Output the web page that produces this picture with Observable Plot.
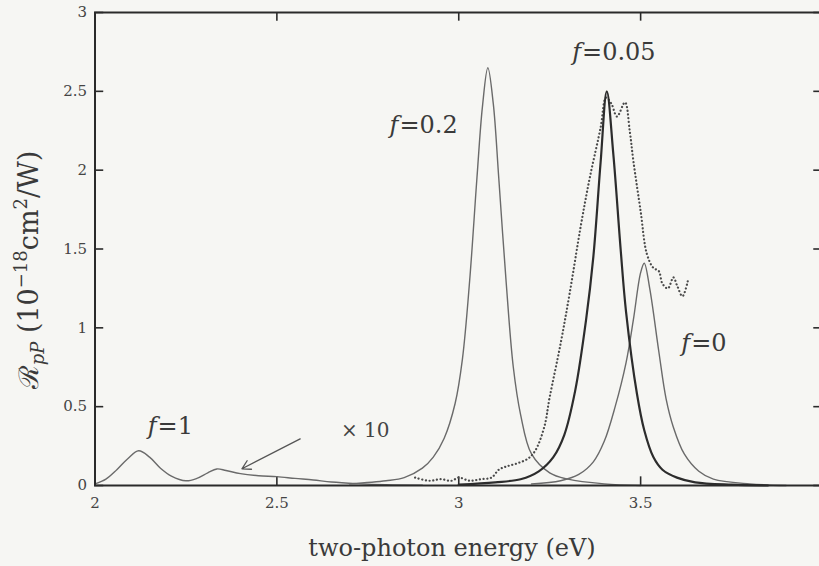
<!DOCTYPE html>
<html>
<head>
<meta charset="utf-8">
<script src="https://cdn.jsdelivr.net/npm/d3@7"></script>
<script src="https://cdn.jsdelivr.net/npm/@observablehq/plot@0.6"></script>
<style>
  html, body { margin: 0; padding: 0; background: #f6f6f3; }
  #chart svg { display: block; background: #f6f6f3; }
</style>
</head>
<body>
<div id="chart"></div>
<script>
// Two-photon response spectra for several filling factors f.

// f = 1 (shown ×10)
const f1Energy = [2.00, 2.03, 2.06, 2.09, 2.12, 2.15, 2.18, 2.21, 2.25, 2.28, 2.31, 2.335, 2.36, 2.40, 2.45, 2.50, 2.55, 2.60, 2.65, 2.72, 2.80, 2.90];
const f1Value  = [0.01, 0.04, 0.10, 0.17, 0.22, 0.18, 0.11, 0.06, 0.03, 0.045, 0.08, 0.105, 0.095, 0.075, 0.062, 0.056, 0.045, 0.035, 0.022, 0.012, 0.005, 0.002];

// f = 0.2
const f02Energy = [2.70, 2.80, 2.85, 2.90, 2.93, 2.96, 2.99, 3.01, 3.03, 3.05, 3.065, 3.08, 3.095, 3.11, 3.13, 3.15, 3.17, 3.20, 3.25, 3.30, 3.40, 3.50];
const f02Value  = [0.01, 0.03, 0.05, 0.11, 0.18, 0.30, 0.52, 0.80, 1.30, 1.95, 2.40, 2.65, 2.42, 1.95, 1.30, 0.75, 0.45, 0.20, 0.08, 0.04, 0.01, 0.00];

// f = 0.05
const f005Energy = [3.00, 3.10, 3.17, 3.22, 3.26, 3.29, 3.32, 3.35, 3.37, 3.39, 3.407, 3.425, 3.445, 3.46, 3.49, 3.51, 3.535, 3.56, 3.60, 3.65, 3.75, 3.85];
const f005Value  = [0.005, 0.02, 0.04, 0.09, 0.18, 0.32, 0.60, 1.05, 1.45, 2.05, 2.50, 2.10, 1.50, 1.10, 0.58, 0.35, 0.18, 0.10, 0.05, 0.02, 0.005, 0.00];

// f = 0
const f0Energy = [3.20, 3.28, 3.33, 3.37, 3.40, 3.43, 3.46, 3.48, 3.50, 3.51, 3.525, 3.55, 3.57, 3.59, 3.62, 3.66, 3.70, 3.80, 3.90];
const f0Value  = [0.01, 0.03, 0.07, 0.15, 0.28, 0.50, 0.78, 1.05, 1.35, 1.41, 1.25, 0.85, 0.55, 0.37, 0.20, 0.09, 0.04, 0.01, 0.00];

// measured spectrum (dotted)
const measEnergy = [2.88, 2.92, 2.95, 2.98, 3.00, 3.03, 3.06, 3.09, 3.11, 3.13, 3.16, 3.19, 3.21, 3.235, 3.25, 3.28, 3.305, 3.335, 3.36, 3.39, 3.405, 3.42, 3.435, 3.457, 3.47, 3.48, 3.50, 3.517, 3.535, 3.55, 3.56, 3.575, 3.59, 3.60, 3.615, 3.63];
const measValue  = [0.05, 0.03, 0.04, 0.03, 0.05, 0.03, 0.04, 0.05, 0.10, 0.12, 0.14, 0.17, 0.22, 0.37, 0.56, 0.90, 1.22, 1.64, 1.95, 2.27, 2.46, 2.42, 2.34, 2.43, 2.25, 2.06, 1.74, 1.47, 1.38, 1.36, 1.28, 1.25, 1.32, 1.27, 1.20, 1.30];

// curve labels: the italic "f" ends and "=value" starts at (x, y)
const labelValues = ["=1", "=0.2", "=0.05", "=0"];
const labelX = [2.172, 2.837, 3.339, 3.639];
const labelY = [0.374, 2.283, 2.746, 0.90];

// "× 10" annotation and its arrow
const scaleNote = "× 10";
const scaleNoteX = 2.676, scaleNoteY = 0.35;
const arrowFrom = [2.564, 0.296];
const arrowTo = [2.404, 0.106];

// axis ticks
const xTicks = [2, 2.5, 3, 3.5, 4];
const xTickLabels = [2, 2.5, 3, 3.5];
const yTicks = [0, 0.5, 1, 1.5, 2, 2.5, 3];

const rows = (xs, ys) => xs.map((x, i) => ({x, y: ys[i]}));
const labels = labelValues.map((t, i) => ({t, x: labelX[i], y: labelY[i]}));

const serif = "'DejaVu Serif', 'Liberation Serif', serif";
const xMin = 2, xMax = 4, yMin = 0, yMax = 3;
// inward tick length, in axis units
const xTickLen = 0.055;  // along y
const yTickLen = 0.024;  // along x
const tickStyle = {stroke: "#2a2a2a", strokeWidth: 1.6};

const chart = Plot.plot({
  width: 819,
  height: 566,
  marginLeft: 94.5,
  marginRight: -3,
  marginTop: 12,
  marginBottom: 81,
  x: {domain: [xMin, xMax]},
  y: {domain: [yMin, yMax]},
  style: {background: "transparent", fontFamily: serif, color: "#333"},
  marks: [
    // tick labels
    Plot.axisX(xTickLabels, {anchor: "bottom", tickSize: 0, tickPadding: 12, fontSize: 15, fill: "#444", label: null, tickFormat: d => String(d)}),
    Plot.axisY(yTicks, {anchor: "left", tickSize: 0, tickPadding: 8, fontSize: 15, fill: "#444", label: null, tickFormat: d => String(d)}),
    // inward tick marks on all four sides
    Plot.ruleX(xTicks, {x: d => d, y1: () => yMin, y2: () => yMin + xTickLen, ...tickStyle}),
    Plot.ruleX(xTicks, {x: d => d, y1: () => yMax, y2: () => yMax - xTickLen, ...tickStyle}),
    Plot.ruleY(yTicks, {y: d => d, x1: () => xMin, x2: () => xMin + yTickLen, ...tickStyle}),
    Plot.ruleY(yTicks, {y: d => d, x1: () => xMax, x2: () => xMax - yTickLen, ...tickStyle}),
    // spectra
    Plot.line(rows(f1Energy, f1Value), {x: "x", y: "y", curve: "catmull-rom", stroke: "#6a6a6a", strokeWidth: 1.4}),
    Plot.line(rows(f02Energy, f02Value), {x: "x", y: "y", curve: "catmull-rom", stroke: "#6a6a6a", strokeWidth: 1.4}),
    Plot.line(rows(f0Energy, f0Value), {x: "x", y: "y", curve: "catmull-rom", stroke: "#6a6a6a", strokeWidth: 1.4}),
    Plot.line(rows(measEnergy, measValue), {x: "x", y: "y", curve: "catmull-rom", stroke: "#4a4a4a", strokeWidth: 2.2, strokeDasharray: "0.1,3.6", strokeLinecap: "round"}),
    Plot.line(rows(f005Energy, f005Value), {x: "x", y: "y", curve: "catmull-rom", stroke: "#2c2c2c", strokeWidth: 2.2}),
    // annotations
    Plot.arrow([{x1: arrowFrom[0], y1: arrowFrom[1], x2: arrowTo[0], y2: arrowTo[1]}], {x1: "x1", y1: "y1", x2: "x2", y2: "y2", stroke: "#555", strokeWidth: 1.3, headLength: 11, bend: 0}),
    Plot.text([scaleNote], {x: scaleNoteX, y: scaleNoteY, text: d => d, textAnchor: "start", fontSize: 20, fill: "#444", fontFamily: serif}),
    Plot.text(labels, {x: "x", y: "y", text: () => "f", textAnchor: "end", fontSize: 24, fontStyle: "italic", fill: "#3a3a3a", fontFamily: serif, dx: -1}),
    Plot.text(labels, {x: "x", y: "y", text: "t", textAnchor: "start", fontSize: 24, fill: "#3a3a3a", fontFamily: serif}),
    Plot.frame({stroke: "#2a2a2a", strokeWidth: 2})
  ]
});

const svg = d3.select(chart);

// x-axis title
svg.append("text")
  .attr("x", 452).attr("y", 556)
  .attr("text-anchor", "middle")
  .attr("font-family", serif).attr("font-size", 24).attr("fill", "#3a3a3a")
  .text("two-photon energy (eV)");

// y-axis title with sub/superscripts
const yt = svg.append("text")
  .attr("transform", "translate(38,270) rotate(-90)")
  .attr("text-anchor", "middle")
  .attr("font-family", serif).attr("font-size", 27).attr("fill", "#3a3a3a");
yt.append("tspan").text("ℛ");
yt.append("tspan").attr("font-size", 18).attr("font-style", "italic").attr("dy", 6).text("pP");
yt.append("tspan").attr("dy", -6).text(" (10");
yt.append("tspan").attr("font-size", 18).attr("dy", -11).text("−18");
yt.append("tspan").attr("dy", 11).text("cm");
yt.append("tspan").attr("font-size", 18).attr("dy", -11).text("2");
yt.append("tspan").attr("dy", 11).text("/W)");

document.getElementById("chart").append(chart);
</script>
</body>
</html>
